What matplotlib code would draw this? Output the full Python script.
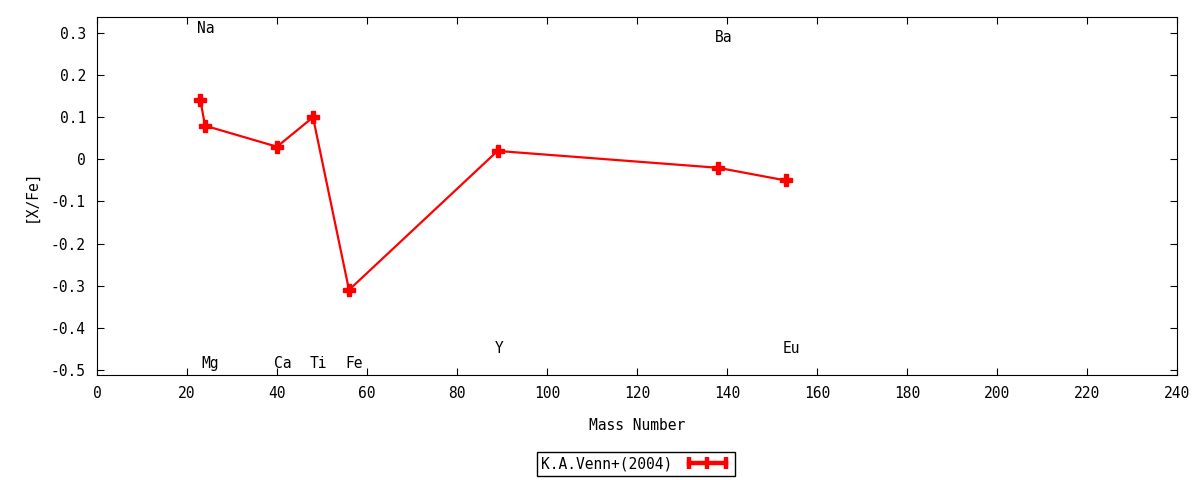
import matplotlib
matplotlib.use("Agg")
import matplotlib.pyplot as plt
from matplotlib.lines import Line2D
from matplotlib.ticker import MultipleLocator, FuncFormatter

# data
elements = ["Na", "Mg", "Ca", "Ti", "Fe", "Y", "Ba", "Eu"]
mass = [23, 24, 40, 48, 56, 89, 138, 153]
xfe = [0.14, 0.08, 0.03, 0.10, -0.31, 0.02, -0.02, -0.05]
label_y = [0.31, -0.485, -0.485, -0.485, -0.485, -0.45, 0.29, -0.45]

plt.rcParams['font.family'] = ['DejaVu Sans Mono']

fig = plt.figure(figsize=(12, 4.8), dpi=100)
ax = fig.add_axes([0.0808, 0.2187, 0.9002, 0.7459])

ax.plot(mass, xfe, '-P', color='red', linewidth=1.6, markersize=8)

for el, m, ly in zip(elements, mass, label_y):
    ax.text(m - 0.7, ly, el, ha='left', va='center', fontsize=10.5)

ax.set_xlim(0, 240)
ax.set_ylim(-0.512, 0.338)
ax.xaxis.set_major_locator(MultipleLocator(20))
ax.yaxis.set_major_locator(MultipleLocator(0.1))
ax.yaxis.set_major_formatter(FuncFormatter(lambda v, p: "%g" % round(v, 2)))
ax.tick_params(direction='in', top=True, right=True, length=5, labelsize=10.5, pad=8)

ax.set_xlabel("Mass Number", fontsize=10.5, labelpad=12)
ax.set_ylabel("[X/Fe]", fontsize=10.5, labelpad=9)

# gnuplot style key sample: thick bar with three ticks
key = Line2D([], [], color='red', linewidth=3.2, marker='|',
             markersize=8, markeredgewidth=3.2)
leg = fig.legend(handles=[key], labels=["K.A.Venn+(2004)"], loc='center',
                 bbox_to_anchor=(0.53, 1 - 464 / 480), numpoints=3,
                 markerfirst=False, fancybox=False, edgecolor='black',
                 framealpha=1, fontsize=10.5, handlelength=3.2,
                 borderpad=0.3, borderaxespad=0, handletextpad=0.8)
leg.get_frame().set_linewidth(1)

fig.savefig("out.png", dpi=100)
